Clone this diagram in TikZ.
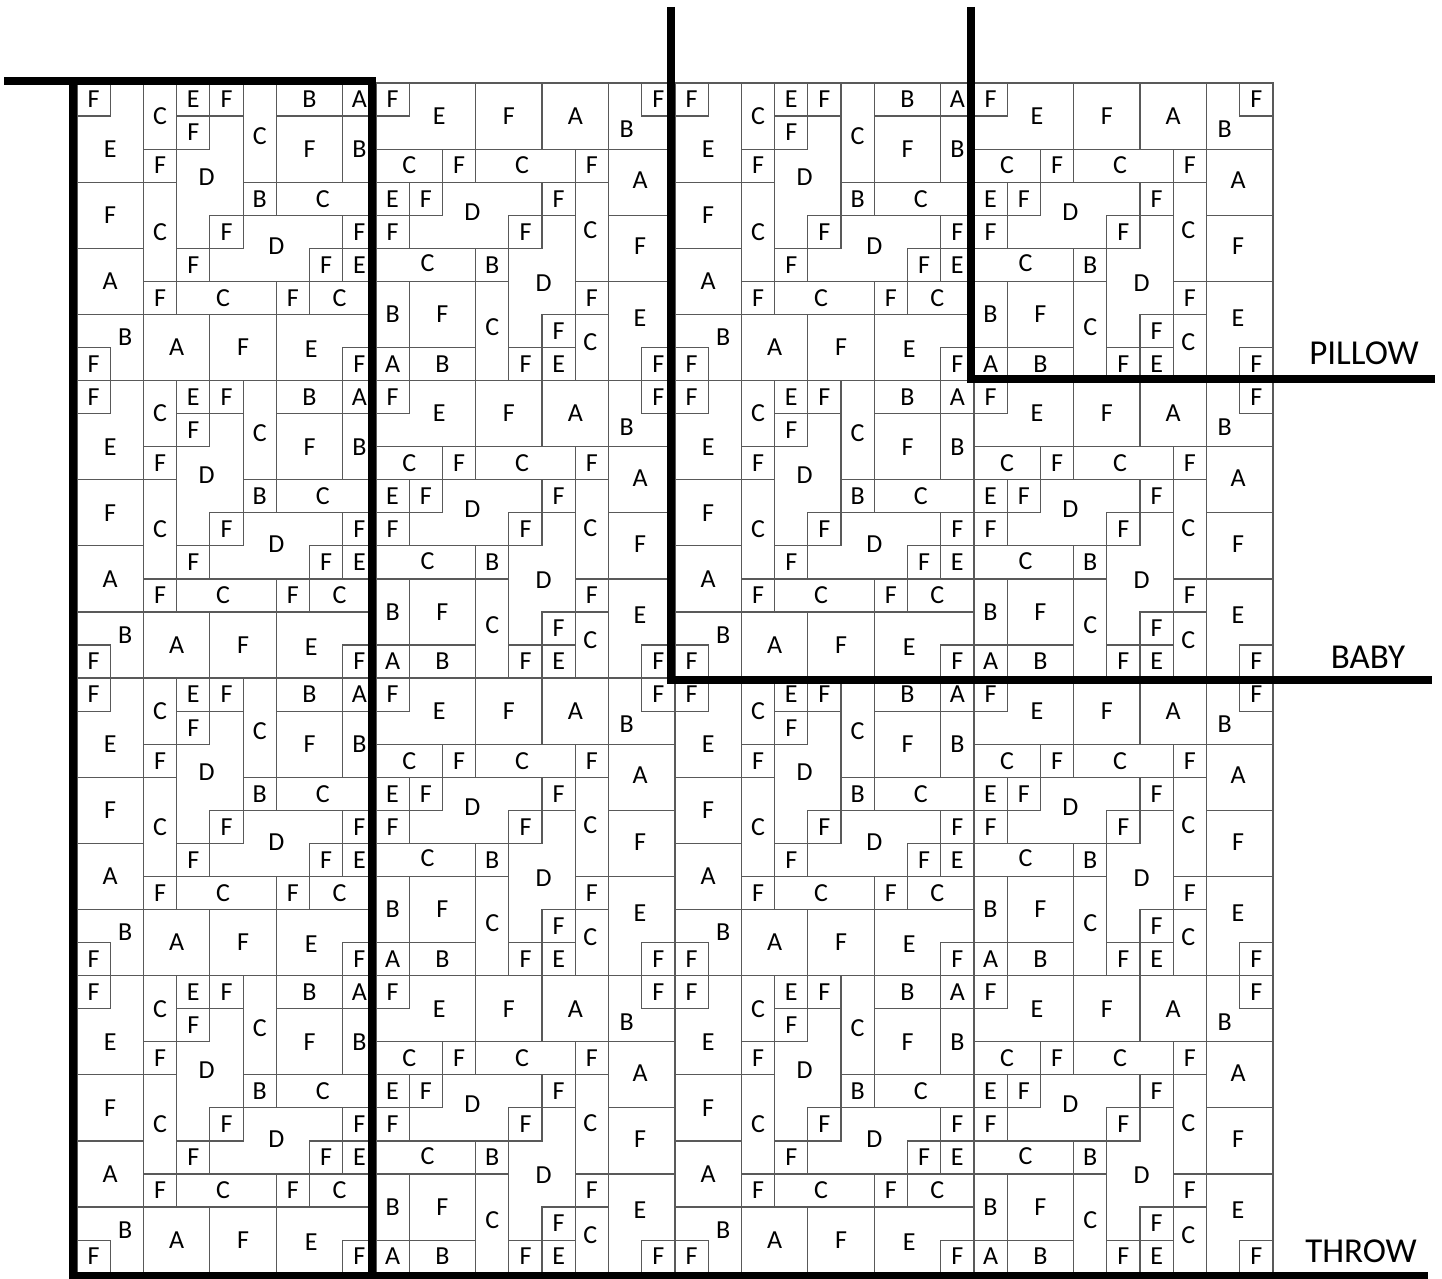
\documentclass[tikz,border=0pt]{standalone}
\usepackage{fontspec}
\setmainfont{Carlito}

\tikzset{
  seam/.style={draw=black!65, line width=0.6pt},
  fab/.style={inner sep=0pt, font=\fontsize{13}{13}\selectfont},
  edge/.style={line width=4pt},
  size/.style={inner sep=0pt, font=\fontsize{17.5}{17.5}\selectfont},
}

% one piece: corner, corner, label position, fabric
\newcommand{\pc}[4]{%
  \draw[seam] (#1) rectangle (#2);
  \node[fab] at (#3) {#4};}

% left block
\newcommand{\blockA}{%
  \pc{0,0}{2,3}{1,2}{E}
  \pc{0,0}{1,1}{0.5,0.5}{F}
  \pc{2,0}{3,2}{2.5,1}{C}
  \pc{2,2}{3,3}{2.5,2.5}{F}
  \pc{3,0}{4,1}{3.5,0.5}{E}
  \pc{4,0}{5,1}{4.5,0.5}{F}
  \pc{3,1}{5,5}{3.9,2.85}{D}
  \pc{3,1}{4,2}{3.5,1.5}{F}
  \pc{5,0}{6,3}{5.5,1.6}{C}
  \pc{6,0}{8,1}{7,0.5}{B}
  \pc{8,0}{9,1}{8.5,0.5}{A}
  \pc{6,1}{8,3}{7,2}{F}
  \pc{8,1}{9,3}{8.5,2}{B}
  \pc{5,3}{6,4}{5.5,3.5}{B}
  \pc{6,3}{9,4}{7.4,3.5}{C}
  \pc{0,3}{2,5}{1,4}{F}
  \pc{2,3}{3,6}{2.5,4.5}{C}
  \pc{4,4}{9,6}{6,4.95}{D}
  \pc{4,4}{5,5}{4.5,4.5}{F}
  \pc{3,5}{4,6}{3.5,5.5}{F}
  \pc{8,4}{9,5}{8.5,4.5}{F}
  \pc{7,5}{8,6}{7.5,5.5}{F}
  \pc{8,5}{9,6}{8.5,5.5}{E}
  \pc{0,5}{2,7}{1,6}{A}
  \pc{2,6}{3,7}{2.5,6.5}{F}
  \pc{3,6}{6,7}{4.4,6.5}{C}
  \pc{6,6}{7,7}{6.5,6.5}{F}
  \pc{7,6}{9,7}{7.9,6.5}{C}
  \pc{0,7}{2,9}{1.45,7.7}{B}
  \pc{0,8}{1,9}{0.5,8.5}{F}
  \pc{2,7}{4,9}{3,8}{A}
  \pc{4,7}{6,9}{5,8}{F}
  \pc{6,7}{9,9}{7.05,8.05}{E}
  \pc{8,8}{9,9}{8.5,8.5}{F}}

% right block
\newcommand{\blockB}{%
  \pc{0,0}{3,2}{1.9,1}{E}
  \pc{0,0}{1,1}{0.5,0.5}{F}
  \pc{3,0}{5,2}{4,1}{F}
  \pc{5,0}{7,2}{6,1}{A}
  \pc{7,0}{9,2}{7.55,1.4}{B}
  \pc{8,0}{9,1}{8.5,0.5}{F}
  \pc{7,2}{9,4}{7.95,2.95}{A}
  \pc{0,2}{2,3}{1,2.5}{C}
  \pc{2,2}{3,3}{2.5,2.5}{F}
  \pc{3,2}{6,3}{4.4,2.5}{C}
  \pc{6,2}{7,3}{6.5,2.5}{F}
  \pc{0,3}{1,4}{0.5,3.5}{E}
  \pc{1,3}{5,5}{2.9,3.9}{D}
  \pc{1,3}{2,4}{1.5,3.5}{F}
  \pc{5,3}{6,4}{5.5,3.5}{F}
  \pc{0,4}{1,5}{0.5,4.5}{F}
  \pc{6,3}{7,6}{6.45,4.45}{C}
  \pc{7,4}{9,6}{7.95,4.95}{F}
  \pc{0,5}{3,6}{1.55,5.45}{C}
  \pc{3,5}{4,6}{3.5,5.5}{B}
  \pc{4,4}{6,8}{5.05,6.05}{D}
  \pc{4,4}{5,5}{4.5,4.5}{F}
  \pc{6,6}{7,7}{6.5,6.5}{F}
  \pc{5,7}{6,8}{5.5,7.5}{F}
  \pc{0,6}{1,8}{0.5,7}{B}
  \pc{1,6}{3,8}{2,7}{F}
  \pc{3,6}{4,9}{3.5,7.4}{C}
  \pc{0,8}{1,9}{0.5,8.5}{A}
  \pc{1,8}{3,9}{2,8.5}{B}
  \pc{4,8}{5,9}{4.5,8.5}{F}
  \pc{5,8}{6,9}{5.5,8.5}{E}
  \pc{6,7}{7,9}{6.45,7.85}{C}
  \pc{7,6}{9,9}{7.95,7.1}{E}
  \pc{8,8}{9,9}{8.5,8.5}{F}}

\begin{document}
\begin{tikzpicture}[x=0.5pt,y=-0.5pt]
    \useasboundingbox (0,0) rectangle (1442,1279);
    % the quilt top, 4 x 4 blocks
    \begin{scope}[shift={(77,83)},x=16.61pt,y=-16.53pt]
        \foreach \bx in {0,2} {
            \foreach \by in {0,...,3} {
                \begin{scope}[shift={(9*\bx,9*\by)}] \blockA \end{scope}
                \begin{scope}[shift={(9*\bx+9,9*\by)}] \blockB \end{scope}
            }
        }
    \end{scope}
    % sizes
    \draw[edge] (4,81.5) -- (372,81.5) -- (372,1275.5);
    \draw[edge] (72.5,81.5) -- (72.5,1275.5) -- (1428,1275.5);
    \draw[edge] (671,7) -- (671,680) -- (1432,680);
    \draw[edge] (971,7) -- (971,379) -- (1435,379);
    \node[size] (pillow) at (1364,353) {PILLOW};
    \node[size] (baby) at (1368,657) {BABY};
    \node[size] (throw) at (1361,1251) {THROW};
\end{tikzpicture}
\end{document}
